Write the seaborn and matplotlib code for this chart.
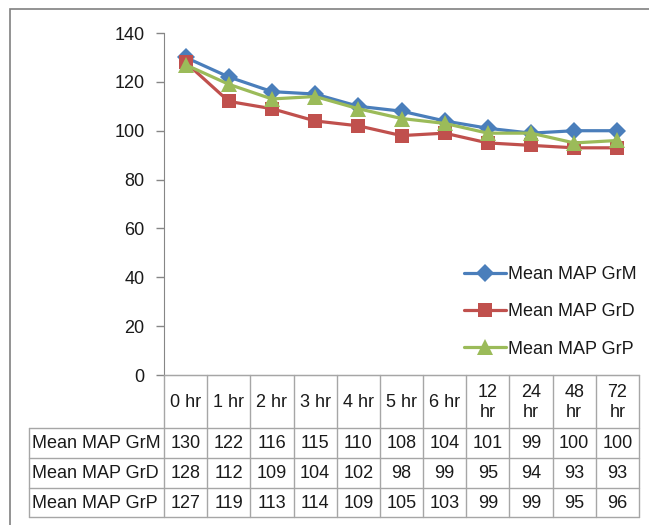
import numpy as np
import pandas as pd
import matplotlib
matplotlib.use("Agg")
import matplotlib.pyplot as plt
import seaborn as sns
from matplotlib.patches import Rectangle

# data
TIMES = ["0 hr", "1 hr", "2 hr", "3 hr", "4 hr", "5 hr", "6 hr",
         "12 hr", "24 hr", "48 hr", "72 hr"]
SERIES = ["Mean MAP GrM", "Mean MAP GrD", "Mean MAP GrP"]
MAP_GRM = [130, 122, 116, 115, 110, 108, 104, 101, 99, 100, 100]
MAP_GRD = [128, 112, 109, 104, 102, 98, 99, 95, 94, 93, 93]
MAP_GRP = [127, 119, 113, 114, 109, 105, 103, 99, 99, 95, 96]
Y_TICKS = [0, 20, 40, 60, 80, 100, 120, 140]

COLORS = {"Mean MAP GrM": "#4A7EBB", "Mean MAP GrD": "#C0504D", "Mean MAP GrP": "#9BBB59"}
MARKERS = {"Mean MAP GrM": "D", "Mean MAP GrD": "s", "Mean MAP GrP": "^"}
MSIZE = {"Mean MAP GrM": 9.5, "Mean MAP GrD": 9.5, "Mean MAP GrP": 11}

sns.set_style("white")
plt.rcParams["font.family"] = ["Liberation Sans", "DejaVu Sans"]
plt.rcParams["font.size"] = 13
TEXT_COLOR = "#1a1a1a"
GRID_COLOR = "#a6a6a6"

W, H = 649, 525
fig = plt.figure(figsize=(W / 100, H / 100), dpi=100)

# outer chart frame
fig.patches.append(Rectangle((10 / W, -0.05), 1.2, 1.05 - 9 / H, transform=fig.transFigure,
                             fill=False, edgecolor="#808080", linewidth=1.2))

left, right = 164, 639
ax_top, ax_bot = 33, 375
ax = fig.add_axes([left / W, (H - ax_bot) / H, (right - left) / W, (ax_bot - ax_top) / H])

df = pd.DataFrame({
    "pos": list(range(len(TIMES))) * 3,
    "value": MAP_GRM + MAP_GRD + MAP_GRP,
    "series": np.repeat(SERIES, len(TIMES)),
})

for name in SERIES:
    sns.lineplot(data=df[df["series"] == name], x="pos", y="value", color=COLORS[name],
                 marker=MARKERS[name], markersize=MSIZE[name], markeredgewidth=0,
                 linewidth=2.3, label=name, ax=ax)

ax.set_xlim(-0.5, len(TIMES) - 0.5)
ax.set_ylim(0, 140)
ax.set_yticks(Y_TICKS)
ax.set_xticks([])
ax.set_xlabel("")
ax.set_ylabel("")
for s in ["top", "right"]:
    ax.spines[s].set_visible(False)
ax.spines["left"].set_color("#868686")
ax.spines["bottom"].set_color(GRID_COLOR)
ax.tick_params(axis="y", left=True, length=6, width=1, color="#868686", pad=8,
               labelsize=13, labelcolor=TEXT_COLOR)

ax.legend(loc="upper left", bbox_to_anchor=(457 / W, 1 - 259 / H),
          bbox_transform=fig.transFigure, frameon=False, fontsize=13,
          handlelength=2.3, labelspacing=1.12, handletextpad=0.15,
          labelcolor=TEXT_COLOR, borderaxespad=0)

# data table below the plot, in category units on x and pixels on y
row_lines = [0, 53, 83, 113, 142]
tab_h = row_lines[-1]
ax_t = fig.add_axes([left / W, (H - ax_bot - tab_h) / H, (right - left) / W, tab_h / H])
ax_t.set_xlim(-0.5, len(TIMES) - 0.5)
ax_t.set_ylim(tab_h, 0)
ax_t.axis("off")
unit = (right - left) / len(TIMES)
x_lab = -0.5 - (left - 29) / unit

for i in range(len(TIMES) + 1):
    ax_t.plot([i - 0.5, i - 0.5], [0, tab_h], color=GRID_COLOR, lw=1, clip_on=False)
ax_t.plot([x_lab, x_lab], [row_lines[1], tab_h], color=GRID_COLOR, lw=1, clip_on=False)
for j, yl in enumerate(row_lines):
    x0 = -0.5 if j == 0 else x_lab
    ax_t.plot([x0, len(TIMES) - 0.5], [yl, yl], color=GRID_COLOR, lw=1, clip_on=False)

for i, t in enumerate(TIMES):
    lab = t.replace(" ", "\n") if len(t) > 4 else t
    ax_t.text(i, (row_lines[0] + row_lines[1]) / 2 + 1, lab, ha="center", va="center",
              fontsize=13, color=TEXT_COLOR, linespacing=1.2)

for j, (name, vals) in enumerate(zip(SERIES, [MAP_GRM, MAP_GRD, MAP_GRP])):
    yc = (row_lines[j + 1] + row_lines[j + 2]) / 2 + 1
    ax_t.text(x_lab + 0.08, yc, name, ha="left", va="center", fontsize=13, color=TEXT_COLOR)
    for i, v in enumerate(vals):
        ax_t.text(i, yc, str(v), ha="center", va="center", fontsize=13, color=TEXT_COLOR)

fig.savefig("out.png", dpi=100)
